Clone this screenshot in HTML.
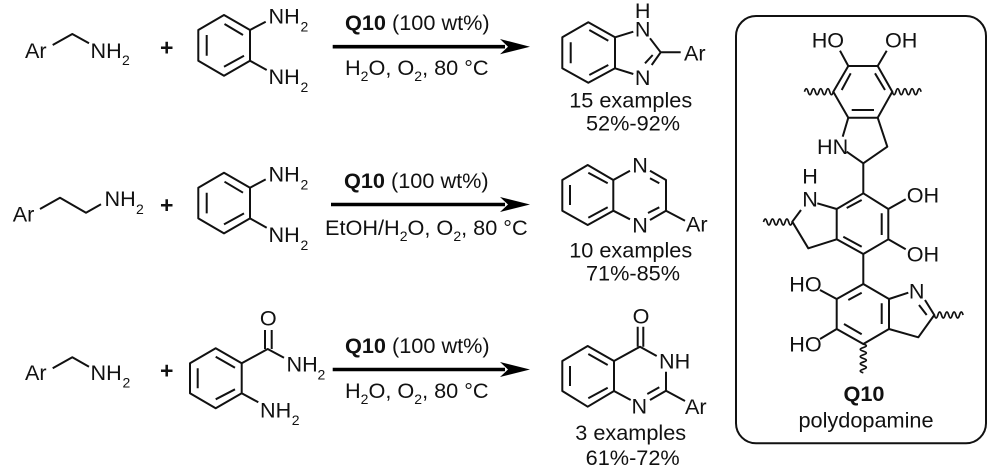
<!DOCTYPE html>
<html><head><meta charset="utf-8"><style>
html,body{margin:0;padding:0;background:#fff}
svg{display:block;filter:blur(.35px)}
text{font-family:"Liberation Sans",sans-serif;font-size:21.6px;fill:#111}
.s{font-size:14px}
.m{text-anchor:middle}
.b{font-weight:bold}
.c{font-size:21.7px}
path{fill:none;stroke:#111;stroke-width:2;stroke-linejoin:round}
</style></head><body>
<svg width="1000" height="474" viewBox="0 0 1000 474" xmlns="http://www.w3.org/2000/svg">
<rect width="1000" height="474" fill="#fff"/>
<!-- Row 1 reactants -->
<text x="25" y="58">Ar</text><path d="M52.7 45L72.3 34L89 43.3"/>
<text x="90.5" y="58">NH</text><text class="s" x="122" y="65">2</text>
<text class="b m" x="166.7" y="55.5" style="font-size:23px">+</text>
<path d="M224 15L250 30V60.7L224 75.7L198.3 60.7V30ZM224.5 24L243 35M206.7 35V55.7M224 66.7L244 55.7M250 30L265.7 21.7M250 60.7L266.7 70"/>
<text x="268.5" y="23.5">NH</text><text class="s" x="300.5" y="31.5">2</text>
<text x="268.5" y="84">NH</text><text class="s" x="300.5" y="92">2</text>
<!-- Arrow 1 -->
<path d="M332.7 46.7H505" style="stroke-width:3.6;stroke:#000"/>
<polygon points="530,46.7 500,39 508,46.7 500,54.3" fill="#000"/>
<text class="c" x="345" y="30"><tspan class="b">Q10</tspan> (100 wt%)</text>
<text class="c" x="345" y="75">H<tspan class="s" dy="6">2</tspan><tspan dy="-6">O, O</tspan><tspan class="s" dy="6">2</tspan><tspan dy="-6">, 80 °C</tspan></text>
<!-- Product 1 -->
<path d="M588.3 22.3L615 37.3V68.3L588.3 82.7L562.3 68.3V37.3ZM589.3 30L608.3 40.7M570.7 42.3V63.3M589.3 75L608.3 65M615 37.3L633.3 31.7M650 38.3L660.7 52.3H680.7M660.7 52.3L651.7 65M652.7 55L645 63.3M615 68.3L633.3 74"/>
<text class="m" x="642.7" y="18">H</text><text class="m" x="642.7" y="36.7">N</text><text class="m" x="642.7" y="85">N</text>
<text x="684" y="60.7">Ar</text>
<text class="c m" x="630.7" y="107.3">15 examples</text><text class="c m" x="633" y="130.7">52%-92%</text>
<!-- Row 2 reactants -->
<text x="12.7" y="221.7">Ar</text><path d="M40 209L60 197.7L86 212.7L101 204.3"/>
<text x="104.5" y="206">NH</text><text class="s" x="136" y="214">2</text>
<text class="b m" x="166.7" y="213" style="font-size:23px">+</text>
<g transform="translate(0 157.7)"><path d="M224 15L250 30V60.7L224 75.7L198.3 60.7V30ZM224.5 24L243 35M206.7 35V55.7M224 66.7L244 55.7M250 30L265.7 21.7M250 60.7L266.7 70"/>
<text x="268.5" y="23.7">NH</text><text class="s" x="300.5" y="31.7">2</text>
<text x="268.5" y="84.5">NH</text><text class="s" x="300.5" y="92.5">2</text></g>
<!-- Arrow 2 -->
<path d="M331 204.5H505" style="stroke-width:3.6;stroke:#000"/>
<polygon points="530,204.5 500,197 508,204.5 500,212" fill="#000"/>
<text class="c" x="344" y="188"><tspan class="b">Q10</tspan> (100 wt%)</text>
<text class="c" x="325" y="235">EtOH/H<tspan class="s" dy="6">2</tspan><tspan dy="-6">O, O</tspan><tspan class="s" dy="6">2</tspan><tspan dy="-6">, 80 °C</tspan></text>
<!-- Product 2 -->
<path d="M587.7 165L613.3 180V210.7L587.7 225L562.3 210.7V180ZM588.3 172.7L607.7 183.3M570 185V205M588.3 217.7L607.7 207.3M613.3 180L630 170.7M650 170.7L666 180V210.7L650 220M650 178.3L659.3 183.3M659.3 207.3L648 213M666 210.7L685 220.7M613.3 210.7L630 219.3"/>
<text class="m" x="640" y="172.7">N</text><text class="m" x="640" y="232.7">N</text><text x="686" y="231.7">Ar</text>
<text class="c m" x="630.7" y="257.3">10 examples</text><text class="c m" x="633" y="280.7">71%-85%</text>
<!-- Row 3 reactants -->
<text x="25" y="380">Ar</text><path d="M52.7 368.3L72.3 357.3L89 366.7"/>
<text x="90.5" y="380">NH</text><text class="s" x="122.5" y="387.7">2</text>
<text class="b m" x="166.7" y="378.5" style="font-size:23px">+</text>
<path d="M215.7 348.3L241.7 363.3V393.3L215.7 408.3L190 393.3V363.3ZM215.7 356.7L235 367.7M197.7 368.3V388.3M215.7 399.3L235 389.3M241.7 363.3L267.7 349L284 357.7M265 330V349M271.7 330V349M241.7 393.3L258.3 402.3"/>
<text class="m" x="268.3" y="325.7">O</text>
<text x="286.5" y="371.7">NH</text><text class="s" x="317.5" y="379.3">2</text>
<text x="260" y="417.3">NH</text><text class="s" x="291.7" y="425">2</text>
<!-- Arrow 3 -->
<path d="M332.7 369.5H505" style="stroke-width:3.6;stroke:#000"/>
<polygon points="530,369.5 500,362 508,369.5 500,377" fill="#000"/>
<text class="c" x="345" y="353"><tspan class="b">Q10</tspan> (100 wt%)</text>
<text class="c" x="345" y="398">H<tspan class="s" dy="6">2</tspan><tspan dy="-6">O, O</tspan><tspan class="s" dy="6">2</tspan><tspan dy="-6">, 80 °C</tspan></text>
<!-- Product 3 -->
<path d="M587.7 346L614 361V391L587.7 406.7L562.3 391V361ZM588.3 354L607.7 365M570 366V386M588.3 398.3L607.7 387.7M614 361L640 346.7L656.7 356M637.7 326.7V346.7M643.3 326.7V346.7M666 371.7V390.7L650 400M659.3 387.3L647.3 394M666 390.7L685 401M614 391L630.7 400"/>
<text class="m" x="641" y="323.3">O</text><text x="659" y="368.3">NH</text><text class="m" x="639.3" y="413.3">N</text><text x="685" y="414">Ar</text>
<text class="c m" x="630.7" y="440">3 examples</text><text class="c m" x="632.7" y="465">61%-72%</text>
<!-- Box -->
<rect x="736" y="16" width="250" height="427.3" rx="20" fill="none" stroke="#111" stroke-width="2"/>
<!-- Q10 top ring -->
<path d="M848.3 66H877.7L892.3 91.7L877.7 117.7H848.3L833.3 91.7ZM840 50.7L848.3 66M886.7 50.7L877.7 66M850.7 73.3L841.7 90M875 73.3L885 90M851.7 110H874M848.3 117.7L842.7 136.7M846.7 151.7L863.3 163.3L887.3 146.7L877.7 117.7M863.3 163.3V193.3"/>
<path d="M833.3 91.7q-1.8 6-3.6 0t-3.6 0t-3.6 0t-3.6 0t-3.6 0t-3.6 0t-3.6 0t-3.6 0" style="stroke-width:1.7"/>
<path d="M892.3 91.7q1.8 6 3.6 0t3.6 0t3.6 0t3.6 0t3.6 0t3.6 0t3.6 0t3.6 0" style="stroke-width:1.7"/>
<text x="811.7" y="47.3">HO</text><text x="885" y="47.3">OH</text><text x="817" y="154">HN</text>
<!-- Q10 middle ring -->
<path d="M863.3 193.3L888.3 209V239.3L863.3 254L836.7 239.3V209ZM846.7 208L861.7 200M881.7 213.3V235M843.3 236.7L861.7 246.7M888.3 209L905.7 199.3M888.3 239.3L905.7 249.3M817.3 203.3L836.7 209M801 210L792.3 221.7L808.3 248.3L836.7 239.3M863.3 254V284"/>
<path d="M792.3 222q-1.8 6-3.6 0t-3.6 0t-3.6 0t-3.6 0t-3.6 0t-3.6 0t-3.6 0t-3.6 0" style="stroke-width:1.7"/>
<text x="906.7" y="202.7">OH</text><text x="906.7" y="261.7">OH</text>
<text class="m" x="810" y="183.3">H</text><text class="m" x="810" y="206.7">N</text>
<!-- Q10 lower ring -->
<path d="M863.3 284L889 299V329L863.3 344L836.7 329V299ZM848.3 300L861.7 292.7M881.7 303.3V324M844 324L861.7 334.3M836.7 299L820 290M836.7 329L820 339M889 299L908.3 292.7M925 300L934.3 315L918.3 337.3L889 329M919 305L926.7 315"/>
<path d="M934.3 315q1.8 6 3.6 0t3.6 0t3.6 0t3.6 0t3.6 0t3.6 0t3.6 0t3.6 0" style="stroke-width:1.7"/>
<path d="M863.3 344q6 1.8 0 3.6t0 3.6t0 3.6t0 3.6t0 3.6t0 3.6t0 3.6t0 3.6" style="stroke-width:1.7"/>
<text x="789.3" y="291.7">HO</text><text x="789.3" y="351.7">HO</text><text class="m" x="916.7" y="298.3">N</text>
<text class="c m b" x="864" y="401">Q10</text><text class="c m" x="866" y="427.3">polydopamine</text>
</svg>
</body></html>
